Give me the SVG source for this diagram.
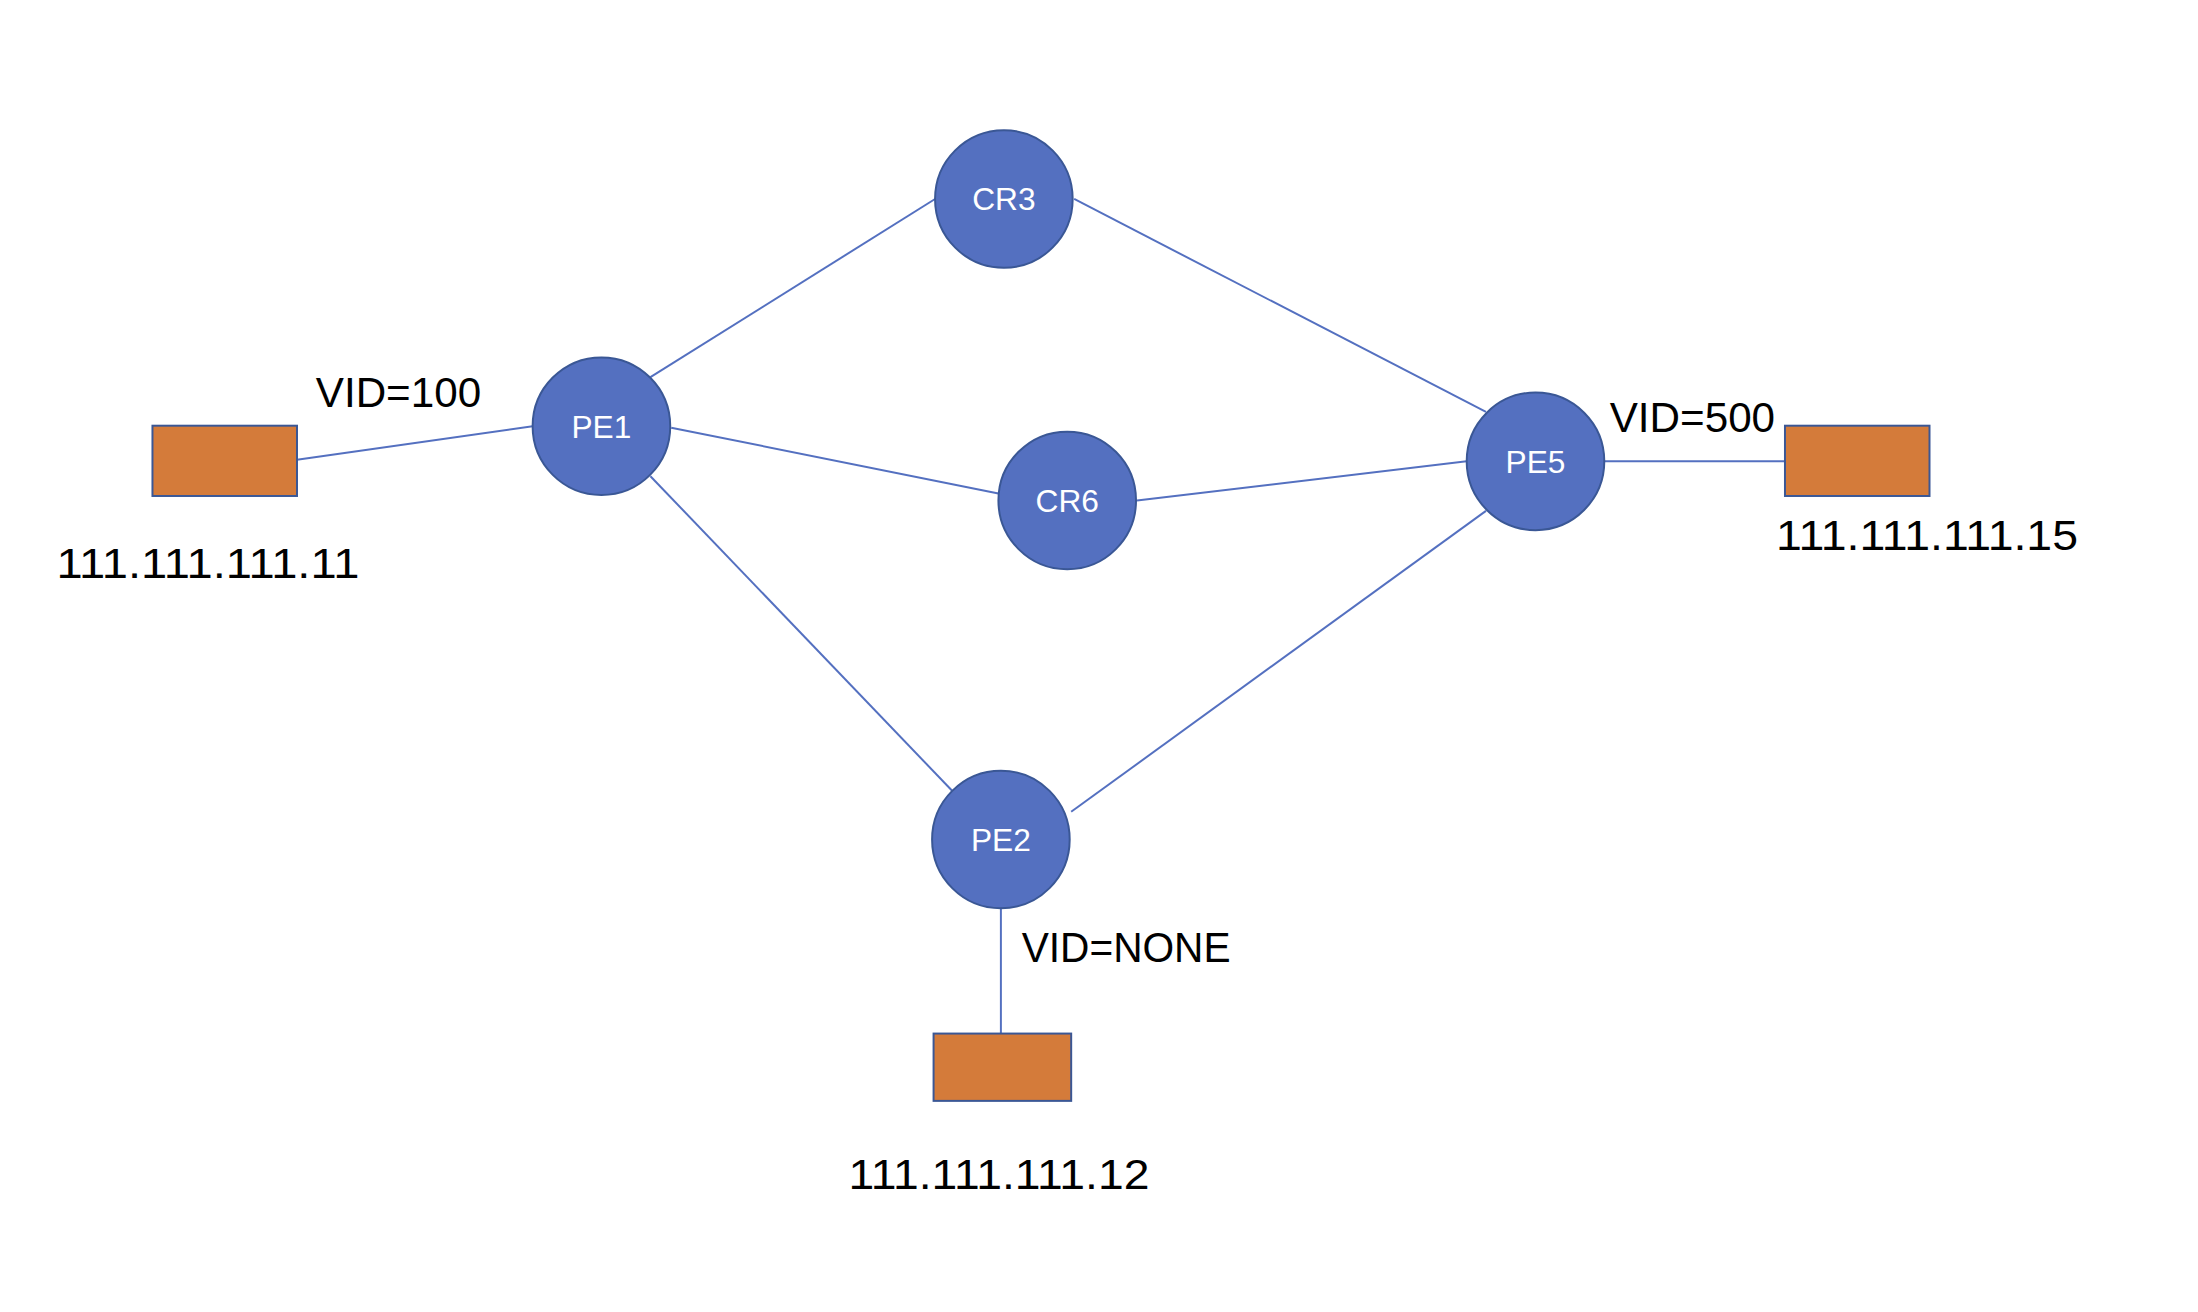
<svg xmlns="http://www.w3.org/2000/svg" width="2198" height="1312" viewBox="0 0 2198 1312">
<style>
.node{fill:#5470C0;stroke:#3A5795;stroke-width:2}
.host{fill:#D47B3A;stroke:#3A5795;stroke-width:2}
.link{stroke:#5470C0;stroke-width:2;fill:none}
.nl{font-family:"Liberation Sans",Arial,sans-serif;font-size:32px;fill:#ffffff;text-anchor:middle}
.lb{font-family:"Liberation Sans",Arial,sans-serif;font-size:43px;fill:#000000}
</style>
<rect width="2198" height="1312" fill="#ffffff"/>
<g transform="scale(0.99)">
<g id="connectors">
<line class="link" x1="300" y1="464.5" x2="538" y2="430.5"/>
<line class="link" x1="657" y1="381" x2="944.5" y2="201"/>
<line class="link" x1="1085" y1="201" x2="1501" y2="416"/>
<line class="link" x1="678" y1="432" x2="1008.5" y2="498.5"/>
<line class="link" x1="1148.5" y1="505.5" x2="1481.5" y2="466"/>
<line class="link" x1="657" y1="481" x2="962" y2="799"/>
<line class="link" x1="1082" y1="820" x2="1501" y2="516"/>
<line class="link" x1="1620.5" y1="466" x2="1803" y2="466"/>
<line class="link" x1="1011" y1="917.5" x2="1011" y2="1044"/>
</g>
<g id="PE1"><circle class="node" cx="607.5" cy="430.5" r="69.5"/><text class="nl" x="607.5" y="442">PE1</text></g>
<g id="CR3"><circle class="node" cx="1014" cy="201" r="69.5"/><text class="nl" x="1014" y="212.5">CR3</text></g>
<g id="CR6"><circle class="node" cx="1078" cy="505.5" r="69.5"/><text class="nl" x="1078" y="517">CR6</text></g>
<g id="PE5"><circle class="node" cx="1551" cy="466" r="69.5"/><text class="nl" x="1551" y="477.5">PE5</text></g>
<g id="PE2"><circle class="node" cx="1011" cy="848" r="69.5"/><text class="nl" x="1011" y="859.5">PE2</text></g>
<g id="host11"><rect class="host" x="154" y="430" width="146" height="71"/></g>
<g id="host15"><rect class="host" x="1803" y="430" width="146" height="71"/></g>
<g id="host12"><rect class="host" x="943" y="1044" width="139" height="68"/></g>
<g id="labels">
<text class="lb" x="319" y="411" textLength="167" lengthAdjust="spacingAndGlyphs">VID=100</text>
<text class="lb" x="57" y="584" textLength="306" lengthAdjust="spacingAndGlyphs">111.111.111.11</text>
<text class="lb" x="1626" y="436" textLength="167" lengthAdjust="spacingAndGlyphs">VID=500</text>
<text class="lb" x="1794" y="556" textLength="305" lengthAdjust="spacingAndGlyphs">111.111.111.15</text>
<text class="lb" x="1032" y="972" textLength="211" lengthAdjust="spacingAndGlyphs">VID=NONE</text>
<text class="lb" x="857" y="1201" textLength="304" lengthAdjust="spacingAndGlyphs">111.111.111.12</text>
</g>
</g>
</svg>
